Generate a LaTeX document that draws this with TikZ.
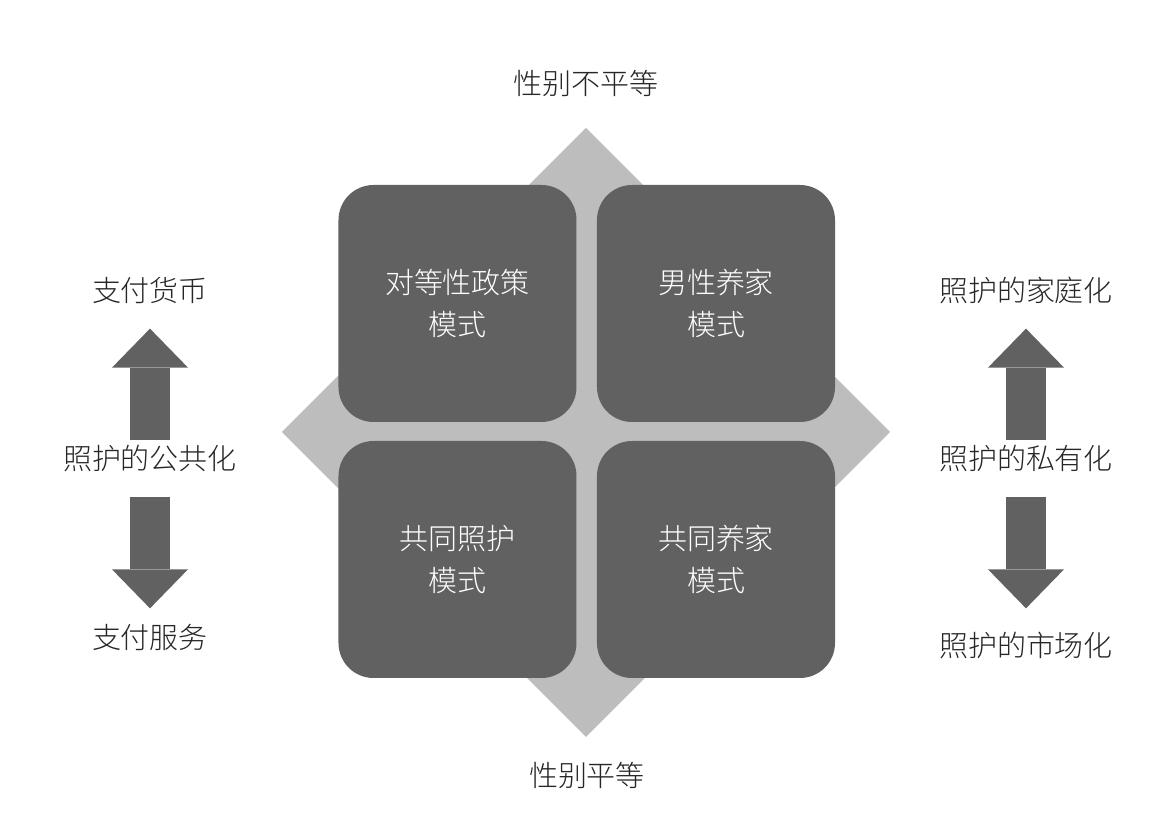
\documentclass[tikz,border=0pt]{standalone}
\usepackage{fontspec}
\setmainfont{Noto Sans CJK SC}[UprightFont=* Light]
\usetikzlibrary{positioning,arrows.meta}
\definecolor{ModelGray}{RGB}{97,97,97}
\definecolor{DiamondGray}{RGB}{189,189,189}
\definecolor{LabelGray}{RGB}{38,38,38}

\begin{document}
\begin{tikzpicture}[
    font=\fontsize{16.5}{24}\selectfont,
    model/.style={
        fill=ModelGray,
        text=white,
        rounded corners=0.7cm,
        align=center,
        inner sep=0pt,
        minimum width=4.76cm,
        minimum height=4.74cm
    },
    label/.style={
        text=LabelGray,
        inner sep=0pt,
        text height=0.88em,
        text depth=0.12em
    },
    bigarrow/.style={
        draw=ModelGray,
        line width=0.8cm,
        -{Triangle[width=1.52cm,length=0.78cm,line width=0pt]}
    }
]
\useasboundingbox (-11.72,8.64) rectangle (11.4,-7.62);

% background diamond
\fill[DiamondGray] (0,6.08) -- (6.08,0) -- (0,-6.1) -- (-6.08,0) -- cycle;

% the four models
\node[model] (parity) at (-2.57,2.57) {对等性政策\\模式};
\node[model] (malebread) at (2.6,2.57) {男性养家\\模式};
\node[model] (jointcare) at (-2.57,-2.55) {共同照护\\模式};
\node[model] (dualearn) at (2.6,-2.55) {共同养家\\模式};

% gender axis
\node[label] (unequal) at (0,6.88) {性别不平等};
\node[label] (equal) at (0.02,-6.96) {性别平等};

% left column
\node[label] (public) at (-8.72,-0.62) {照护的公共化};
\node[label] (money) at (-8.72,2.74) {支付货币};
\node[label] (services) at (-8.72,-4.2) {支付服务};

\draw[bigarrow, shorten <=0.27cm, shorten >=0.49cm] (public.north) -- (money.south);
\draw[bigarrow, shorten <=0.49cm, shorten >=0.49cm] (public.south) -- (services.north);

% right column
\node[label] (private) at (8.8,-0.62) {照护的私有化};
\node[label] (familial) at (8.8,2.74) {照护的家庭化};
\node[label] (market) at (8.8,-4.36) {照护的市场化};

\draw[bigarrow, shorten <=0.27cm, shorten >=0.49cm] (private.north) -- (familial.south);
\draw[bigarrow, shorten <=0.49cm, shorten >=0.65cm] (private.south) -- (market.north);

\end{tikzpicture}
\end{document}
